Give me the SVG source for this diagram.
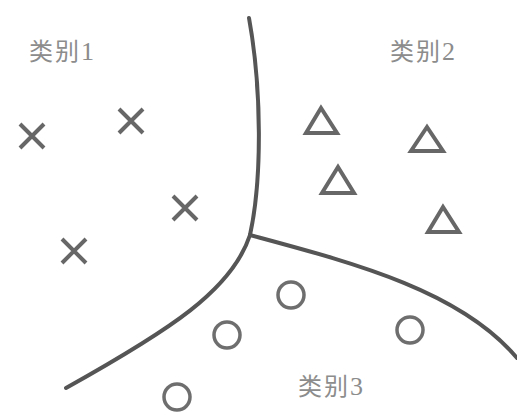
<svg xmlns="http://www.w3.org/2000/svg" width="517" height="412" viewBox="0 0 517 412">
<style>
.bd{fill:none;stroke:#555;stroke-width:4;stroke-linecap:round}
.mk{fill:none;stroke:#676767;stroke-width:4}
.ci{fill:none;stroke:#6e6e6e;stroke-width:3.5}
.lb{font-family:"Noto Sans CJK SC","Liberation Serif",serif;font-size:24px;fill:#8c8c8c;letter-spacing:2px}
.dg{font-family:"Liberation Serif",serif;font-size:26px;letter-spacing:0}
</style>
<rect width="517" height="412" fill="#fff"/>
<g id="connectors">
<path class="bd" d="M249,18 C262,90 262,180 250,235"/>
<path class="bd" d="M250,235 C232,290 170,330 66,388"/>
<path class="bd" d="M250,235 C350,262 460,290 517,358"/>
</g>
<g id="label1"><text class="lb" x="29" y="60">类别<tspan class="dg">1</tspan></text></g>
<g id="label2"><text class="lb" x="390" y="60">类别<tspan class="dg">2</tspan></text></g>
<g id="label3"><text class="lb" x="298" y="395">类别<tspan class="dg">3</tspan></text></g>
<g id="x1"><path class="mk" d="M20,124 L44,148 M44,124 L20,148"/></g>
<g id="x2"><path class="mk" d="M119,109 L143,133 M143,109 L119,133"/></g>
<g id="x3"><path class="mk" d="M173,196 L197,220 M197,196 L173,220"/></g>
<g id="x4"><path class="mk" d="M62,239 L86,263 M86,239 L62,263"/></g>
<g id="t1"><polygon class="mk" points="321,108 306,133 337,133"/></g>
<g id="t2"><polygon class="mk" points="427,127 411,151 443,151"/></g>
<g id="t3"><polygon class="mk" points="338,167 322,193 354,193"/></g>
<g id="t4"><polygon class="mk" points="443,207 428,232 459,232"/></g>
<g id="c1"><circle class="ci" cx="291" cy="295" r="13"/></g>
<g id="c2"><circle class="ci" cx="227" cy="335" r="13"/></g>
<g id="c3"><circle class="ci" cx="410" cy="330" r="13"/></g>
<g id="c4"><circle class="ci" cx="177" cy="397" r="13"/></g>
</svg>
